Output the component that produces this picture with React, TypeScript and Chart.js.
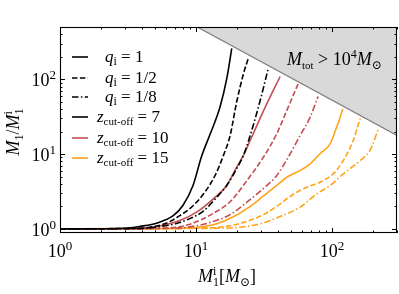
import React, { useEffect, useRef } from "react";
import { Chart, registerables } from "chart.js";
Chart.register(...registerables);

const FONT = '"Liberation Serif", "DejaVu Serif", serif';

const X_MIN = 1;
const X_MAX = 300;
const Y_MIN = 0.88;
const Y_MAX = 500;

const majorTicks = [1, 10, 100];
const majorExp = ["0", "1", "2"];

// M_tot > 1e4 boundary
const boundaryX = [10.2, 300];
const boundaryY = [500, 17.7];

// z_cut-off = 7
const z7q1X = [1, 3, 3.9, 5.2, 6.8, 8.0, 9.5, 11.0, 12.7, 15.0, 16.9, 18.3];
const z7q1Y = [1, 1.02, 1.08, 1.2, 1.5, 2.05, 3.8, 9.4, 18.5, 42.5, 107, 259];
const z7q2X = [1, 3.9, 5.0, 6.1, 7.6, 9.55, 11.6, 13.8, 15.9, 17.8, 19.9, 22.3, 24.2];
const z7q2Y = [1, 1.02, 1.08, 1.2, 1.5, 2.05, 3.09, 5.17, 9.6, 17.7, 50, 118, 190];
const z7q8X = [1, 4.0, 5.1, 6.8, 9.0, 11.3, 14.2, 16.8, 19.9, 22.3, 25.0, 29.6, 33.8];
const z7q8Y = [1, 1.01, 1.06, 1.15, 1.37, 1.72, 2.65, 3.8, 6.4, 9.6, 17.7, 52, 135];

// z_cut-off = 10
const z10q1X = [1, 3.9, 5.75, 7.6, 10.1, 13.4, 16.8, 19.9, 22.3, 25.0, 32.2, 41.5];
const z10q1Y = [1, 1.02, 1.12, 1.29, 1.67, 2.52, 3.8, 6.7, 9.6, 15.2, 42, 109];
const z10q2X = [1, 5.0, 6.8, 9.0, 13.3, 17.8, 23.6, 31.3, 39.2, 46.5, 53.5, 56.2];
const z10q2Y = [1, 1.01, 1.04, 1.15, 1.6, 2.3, 4.4, 9.1, 18.7, 38.4, 70, 86];
const z10q8X = [1, 7.0, 10.1, 13.3, 17.8, 23.6, 31.3, 39.2, 47.5, 58.2, 68.9, 78.9];
const z10q8Y = [1, 1.02, 1.1, 1.25, 1.55, 2.27, 3.47, 5.17, 9.0, 17.7, 31, 59];

// z_cut-off = 15
const z15q1X = [1, 6.8, 10.7, 14.2, 18.8, 25, 31.3, 39.2, 46.5, 58.2, 68.9, 81.6, 96.7, 108, 120];
const z15q1Y = [1, 1.01, 1.06, 1.17, 1.45, 2.0, 2.75, 3.8, 4.9, 6.0, 7.4, 10.1, 13.7, 22.9, 40];
const z15q2X = [1, 12, 17.8, 23.6, 31.3, 39.2, 51.9, 65.2, 81.6, 102, 121, 143, 161];
const z15q2Y = [1, 1.03, 1.1, 1.26, 1.55, 2.0, 2.9, 3.6, 4.2, 5.45, 8.2, 15.2, 30];
const z15q8X = [1, 15.9, 23.6, 31.3, 39.2, 58.2, 77.2, 96.7, 121, 161, 190, 219];
const z15q8Y = [1, 1.02, 1.08, 1.2, 1.4, 1.95, 2.94, 3.8, 5.45, 8.2, 11.2, 21.8];

const BLACK = "#000000";
const RED = "#c44e52";
const ORANGE = "#ffa31a";
const SOLID: number[] = [];
const DASHED = [5.5, 2.4];
const DASHDOT = [6.5, 2.4, 1.5, 2.4];

const pts = (xs: number[], ys: number[]) => xs.map((x, i) => ({ x, y: ys[i] }));

type Seg = { t?: string; it?: boolean; s?: number; sub?: string; sup?: string };

const fontOf = (size: number, it: boolean) => `${it ? "italic " : ""}${size}px ${FONT}`;

function segWidth(ctx: CanvasRenderingContext2D, s: Seg, base: number) {
  if (s.sub !== undefined || s.sup !== undefined) {
    const ss = s.s ?? Math.round(base * 0.7);
    ctx.font = fontOf(ss, false);
    return Math.max(ctx.measureText(s.sub ?? "").width, ctx.measureText(s.sup ?? "").width);
  }
  ctx.font = fontOf(s.s ?? base, !!s.it);
  return ctx.measureText(s.t ?? "").width;
}

function drawRich(
  ctx: CanvasRenderingContext2D,
  segs: Seg[],
  x: number,
  y: number,
  base: number,
  align: "left" | "center" | "right"
) {
  let w = 0;
  for (const s of segs) w += segWidth(ctx, s, base);
  let cx = align === "left" ? x : align === "center" ? x - w / 2 : x - w;
  ctx.textAlign = "left";
  ctx.textBaseline = "alphabetic";
  ctx.fillStyle = "#000";
  for (const s of segs) {
    const sw = segWidth(ctx, s, base);
    if (s.sub !== undefined || s.sup !== undefined) {
      const ss = s.s ?? Math.round(base * 0.7);
      ctx.font = fontOf(ss, false);
      if (s.sup) ctx.fillText(s.sup, cx, y - base * 0.4);
      if (s.sub) ctx.fillText(s.sub, cx, y + base * 0.22);
    } else {
      ctx.font = fontOf(s.s ?? base, !!s.it);
      ctx.fillText(s.t ?? "", cx, y);
    }
    cx += sw;
  }
}

const legendRows: { color: string; dash: number[]; x: number; segs: Seg[] }[] = [
  { color: BLACK, dash: SOLID, x: 105, segs: [{ t: "q", it: true }, { sub: "i" }, { t: " = 1" }] },
  { color: BLACK, dash: DASHED, x: 105, segs: [{ t: "q", it: true }, { sub: "i" }, { t: " = 1/2" }] },
  { color: BLACK, dash: DASHDOT, x: 105, segs: [{ t: "q", it: true }, { sub: "i" }, { t: " = 1/8" }] },
  { color: BLACK, dash: SOLID, x: 97, segs: [{ t: "z", it: true }, { sub: "cut-off", s: 11 }, { t: " = 7" }] },
  { color: RED, dash: SOLID, x: 97, segs: [{ t: "z", it: true }, { sub: "cut-off", s: 11 }, { t: " = 10" }] },
  { color: ORANGE, dash: SOLID, x: 97, segs: [{ t: "z", it: true }, { sub: "cut-off", s: 11 }, { t: " = 15" }] },
];
const legendY = [57, 78, 97, 117, 138, 158];

const decor = {
  id: "decor",
  afterDraw(chart: any) {
    const ctx: CanvasRenderingContext2D = chart.ctx;
    const xs = chart.scales.x;
    const ys = chart.scales.y;
    const { left, right, top, bottom } = chart.chartArea;
    ctx.save();
    // frame
    ctx.strokeStyle = "#000";
    ctx.lineWidth = 1.1;
    ctx.setLineDash([]);
    ctx.strokeRect(left + 0.5, top + 0.5, right - left - 1, bottom - top - 1);
    // ticks
    ctx.lineWidth = 1;
    ctx.beginPath();
    for (const d of [0.1, 1, 10, 100]) {
      for (let m = 1; m <= 9; m++) {
        const v = m * d;
        const len = m === 1 ? 5 : 2.5;
        if (v >= X_MIN && v <= X_MAX) {
          const px = Math.round(xs.getPixelForValue(v)) + 0.5;
          ctx.moveTo(px, bottom);
          ctx.lineTo(px, bottom - len);
          ctx.moveTo(px, top);
          ctx.lineTo(px, top + len);
        }
        if (v >= Y_MIN && v <= Y_MAX) {
          const py = Math.round(ys.getPixelForValue(v)) + 0.5;
          ctx.moveTo(left, py);
          ctx.lineTo(left + len, py);
          ctx.moveTo(right, py);
          ctx.lineTo(right - len, py);
        }
      }
    }
    ctx.stroke();
    // tick labels
    majorTicks.forEach((v, i) => {
      const px = xs.getPixelForValue(v);
      drawRich(ctx, [{ t: "10" }, { sup: majorExp[i], s: 13 }], px, 257, 18, "center");
      const py = ys.getPixelForValue(v);
      drawRich(ctx, [{ t: "10" }, { sup: majorExp[i], s: 13 }], 56, py + 7, 18, "right");
    });
    // axis labels
    drawRich(
      ctx,
      [{ t: "M", it: true }, { sub: "1", sup: "i", s: 12 }, { t: "[" }, { t: "M", it: true }, { sub: "\u2299", s: 12 }, { t: "]" }],
      227,
      282,
      18,
      "center"
    );
    ctx.save();
    ctx.translate(19, 132);
    ctx.rotate(-Math.PI / 2);
    drawRich(
      ctx,
      [{ t: "M", it: true }, { sub: "1", s: 12 }, { t: "/" }, { t: "M", it: true }, { sub: "1", sup: "i", s: 12 }],
      0,
      0,
      18,
      "center"
    );
    ctx.restore();
    // region annotation
    drawRich(
      ctx,
      [
        { t: "M", it: true },
        { sub: "tot", s: 11 },
        { t: " > 10" },
        { sup: "4", s: 12 },
        { t: "M", it: true },
        { sub: "\u2299", s: 12 },
      ],
      287,
      65,
      18,
      "left"
    );
    // legend
    legendRows.forEach((r, i) => {
      const y = legendY[i];
      ctx.strokeStyle = r.color;
      ctx.lineWidth = 1.6;
      ctx.setLineDash(r.dash);
      ctx.beginPath();
      ctx.moveTo(72, y);
      ctx.lineTo(88, y);
      ctx.stroke();
      ctx.setLineDash([]);
      drawRich(ctx, r.segs, r.x, y + 4.5, 17, "left");
    });
    ctx.restore();
  },
};

const line = (xs: number[], ys: number[], color: string, dash: number[]) => ({
  data: pts(xs, ys),
  borderColor: color,
  borderWidth: 1.6,
  borderDash: dash,
  pointRadius: 0,
  fill: false,
  cubicInterpolationMode: "monotone" as const,
});

export default function App() {
  const ref = useRef<HTMLCanvasElement | null>(null);
  useEffect(() => {
    if (!ref.current) return;
    const chart = new Chart(ref.current, {
      type: "line",
      data: {
        datasets: [
          {
            data: pts(boundaryX, boundaryY),
            borderColor: "#808080",
            borderWidth: 1.3,
            backgroundColor: "#d9d9d9",
            fill: "end",
            pointRadius: 0,
          } as any,
          line(z7q1X, z7q1Y, BLACK, SOLID),
          line(z7q2X, z7q2Y, BLACK, DASHED),
          line(z7q8X, z7q8Y, BLACK, DASHDOT),
          line(z10q1X, z10q1Y, RED, SOLID),
          line(z10q2X, z10q2Y, RED, DASHED),
          line(z10q8X, z10q8Y, RED, DASHDOT),
          line(z15q1X, z15q1Y, ORANGE, SOLID),
          line(z15q2X, z15q2Y, ORANGE, DASHED),
          line(z15q8X, z15q8Y, ORANGE, DASHDOT),
        ],
      },
      options: {
        animation: false,
        responsive: false,
        layout: { padding: { left: 60, top: 27, right: 2, bottom: 61 } },
        scales: {
          x: { type: "logarithmic", min: X_MIN, max: X_MAX, display: false },
          y: { type: "logarithmic", min: Y_MIN, max: Y_MAX, display: false },
        },
        plugins: { legend: { display: false }, tooltip: { enabled: false } },
        elements: { point: { radius: 0 } },
      },
      plugins: [decor],
    });
    return () => chart.destroy();
  }, []);
  return (
    <div style={{ position: "fixed", left: 0, top: 0, width: 399, height: 294, background: "#fff" }}>
      <canvas ref={ref} width={399} height={294} style={{ display: "block", width: 399, height: 294 }} />
    </div>
  );
}
